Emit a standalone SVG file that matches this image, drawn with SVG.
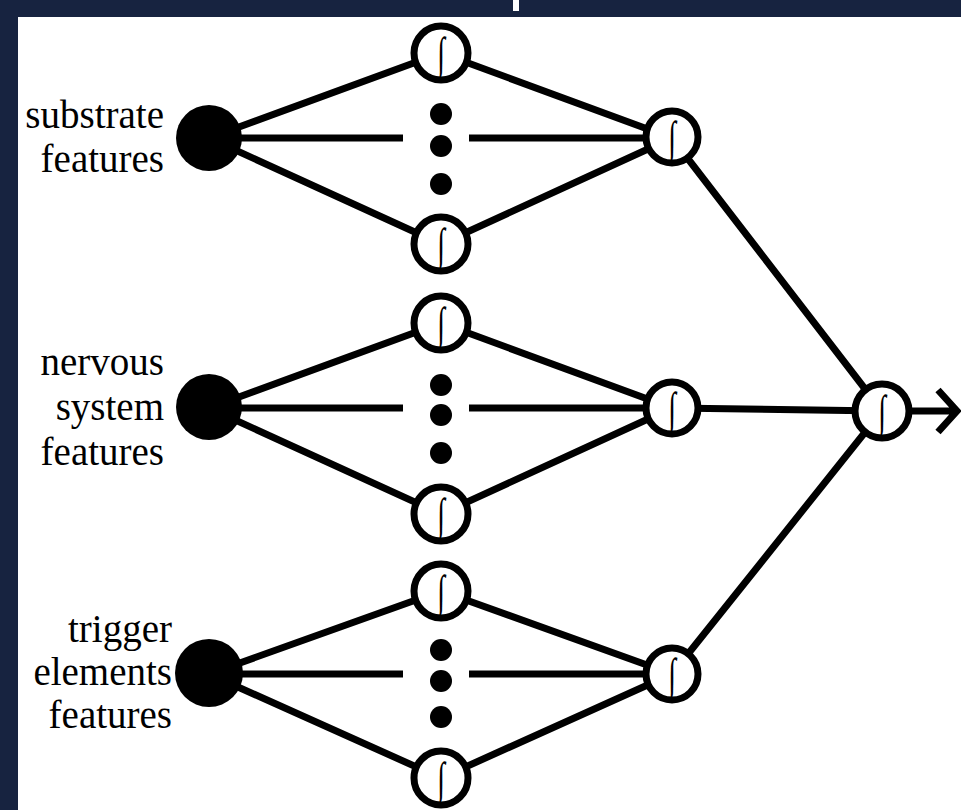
<svg xmlns="http://www.w3.org/2000/svg" width="961" height="810" viewBox="0 0 961 810">
<style>
.e{stroke:#000;stroke-width:7;fill:none;stroke-linecap:butt}
.in{fill:#000}
.h{fill:#fff;stroke:#000;stroke-width:7}
.dot{fill:#000}
.sig{font-family:"Liberation Serif","DejaVu Serif",serif;font-size:40px;fill:#000;text-anchor:middle}
.lbl{font-family:"Liberation Serif","Times New Roman",serif;font-size:39px;fill:#000;text-anchor:end}
</style>
<rect x="0" y="0" width="961" height="810" fill="#172340"/>
<rect x="18" y="17" width="943" height="793" fill="#fff"/>
<rect x="513" y="0" width="6" height="11" fill="#fff"/>
<g id="connectors">
<path class="e" d="M209 138L441 53M209 138L441 244M209 138H403M469 138H672M441 53L672 138M441 244L672 138"/>
<path class="e" d="M209 408L441 323M209 408L441 514M209 408H403M469 408H672M441 323L672 408M441 514L672 408"/>
<path class="e" d="M209 674L441 591M209 674L441 778M209 674H403M469 674H672M441 591L672 674M441 778L672 674"/>
<path class="e" d="M672 138L882 411M672 408L882 411M672 674L882 411M882 411H955M938 390L957 411L938 432"/>
</g>
<g id="labels">
<text class="lbl" x="164" y="128">substrate</text>
<text class="lbl" x="164" y="172">features</text>
<text class="lbl" x="164" y="375">nervous</text>
<text class="lbl" x="164" y="420">system</text>
<text class="lbl" x="164" y="465">features</text>
<text class="lbl" x="172" y="642">trigger</text>
<text class="lbl" x="172" y="685">elements</text>
<text class="lbl" x="172" y="728">features</text>
</g>
<g id="in1"><circle class="in" cx="209" cy="138" r="33"/></g>
<g id="in2"><circle class="in" cx="209" cy="407" r="33"/></g>
<g id="in3"><circle class="in" cx="209" cy="673" r="34"/></g>
<g id="dots1"><circle class="dot" cx="441" cy="114" r="11"/><circle class="dot" cx="441" cy="146" r="11"/><circle class="dot" cx="441" cy="184" r="11"/></g>
<g id="dots2"><circle class="dot" cx="441" cy="385" r="11"/><circle class="dot" cx="441" cy="415" r="11"/><circle class="dot" cx="441" cy="453" r="11"/></g>
<g id="dots3"><circle class="dot" cx="441" cy="650" r="11"/><circle class="dot" cx="441" cy="681" r="11"/><circle class="dot" cx="441" cy="717" r="11"/></g>
<g id="h1a"><circle class="h" cx="441" cy="53" r="27"/><text class="sig" transform="translate(441 69) scale(0.7 1.15)">∫</text></g>
<g id="h1b"><circle class="h" cx="441" cy="244" r="27"/><text class="sig" transform="translate(441 260) scale(0.7 1.15)">∫</text></g>
<g id="h2a"><circle class="h" cx="441" cy="323" r="27"/><text class="sig" transform="translate(441 339) scale(0.7 1.15)">∫</text></g>
<g id="h2b"><circle class="h" cx="441" cy="514" r="27"/><text class="sig" transform="translate(441 530) scale(0.7 1.15)">∫</text></g>
<g id="h3a"><circle class="h" cx="441" cy="591" r="27"/><text class="sig" transform="translate(441 607) scale(0.7 1.15)">∫</text></g>
<g id="h3b"><circle class="h" cx="441" cy="778" r="27"/><text class="sig" transform="translate(441 794) scale(0.7 1.15)">∫</text></g>
<g id="o1"><circle class="h" cx="672" cy="137" r="26"/><text class="sig" transform="translate(672 153) scale(0.7 1.15)">∫</text></g>
<g id="o2"><circle class="h" cx="672" cy="408" r="26"/><text class="sig" transform="translate(672 424) scale(0.7 1.15)">∫</text></g>
<g id="o3"><circle class="h" cx="672" cy="674" r="26"/><text class="sig" transform="translate(672 690) scale(0.7 1.15)">∫</text></g>
<g id="final"><circle class="h" cx="882" cy="411" r="27"/><text class="sig" transform="translate(882 427) scale(0.7 1.15)">∫</text></g>
</svg>
